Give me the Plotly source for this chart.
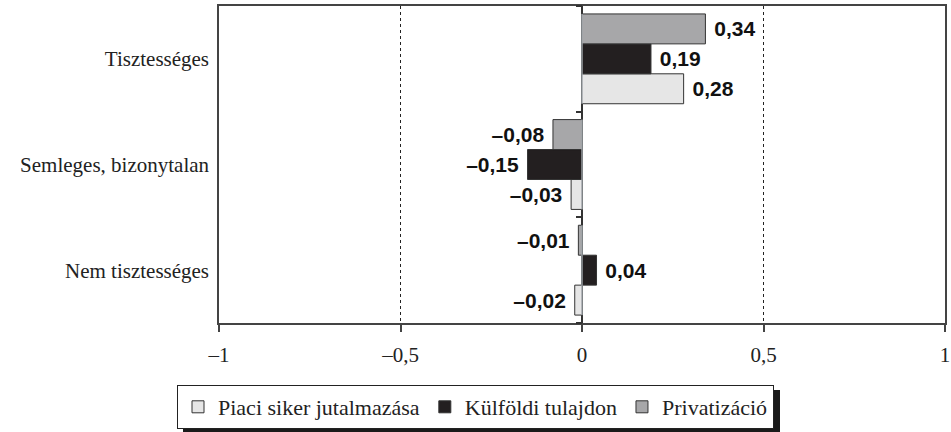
import plotly.graph_objects as go

categories = ["Nem tisztességes", "Semleges, bizonytalan", "Tisztességes"]
series_names = ["Piaci siker jutalmazása", "Külföldi tulajdon", "Privatizáció"]
piaci = [-0.02, -0.03, 0.28]
kulfoldi = [0.04, -0.15, 0.19]
privatizacio = [-0.01, -0.08, 0.34]
colors = ["#e6e6e6", "#231f20", "#a7a7a9"]
x_tickvals = [-1, -0.5, 0, 0.5, 1]
x_ticktext = ["–1", "–0,5", "0", "0,5", "1"]


def fmt(v):
    s = f"{abs(v):.2f}".replace(".", ",")
    return ("–" + s + "\u00a0") if v < 0 else ("\u00a0" + s)


fig = go.Figure()
for name, vals, col in zip(series_names, [piaci, kulfoldi, privatizacio], colors):
    fig.add_trace(go.Bar(
        y=categories, x=vals, orientation="h", name=name,
        marker=dict(color=col, line=dict(color="#333333", width=1)),
        text=[fmt(v) for v in vals], textposition="outside",
        textfont=dict(family="Liberation Sans", size=21, color="#111111", weight="bold"),
        cliponaxis=False,
    ))

# invisible trace to carry the boundary-tick axis at x=0
fig.add_trace(go.Bar(y=categories, x=[0, 0, 0], orientation="h", yaxis="y2",
                     showlegend=False, hoverinfo="skip",
                     marker=dict(color="rgba(0,0,0,0)")))

W, H = 951, 432
ML, MR, MT, MB = 219, 6, 6, 109
PW, PH = W - ML - MR, H - MT - MB


def px_x(p):
    return (p - ML) / PW


def px_y(p):
    return (H - MB - p) / PH


# legend drop shadow (decoration)
fig.add_shape(type="rect", xref="paper", yref="paper",
              x0=px_x(183), x1=px_x(780), y0=px_y(390), y1=px_y(433),
              fillcolor="#1a1a1a", line=dict(width=0), layer="below")

fig.update_layout(
    width=W, height=H,
    margin=dict(l=ML, r=MR, t=MT, b=MB, autoexpand=False),
    paper_bgcolor="white", plot_bgcolor="rgba(0,0,0,0)",
    barmode="group", bargap=0.15, bargroupgap=0,
    font=dict(family="Liberation Serif", size=21, color="#222222"),
    showlegend=True,
    legend=dict(orientation="h", x=px_x(177), xanchor="left", y=px_y(385), yanchor="top",
                bordercolor="#222222", borderwidth=1, bgcolor="white",
                font=dict(family="Liberation Serif", size=22, color="#222222"),
                traceorder="normal", itemwidth=30),
    xaxis=dict(range=[-1, 1], tickvals=x_tickvals, ticktext=x_ticktext, automargin=False,
               showgrid=True, gridcolor="#222222", griddash="dot", gridwidth=1,
               zeroline=True, zerolinecolor="#333333", zerolinewidth=1.5,
               showline=True, linecolor="#444444", linewidth=1.5, mirror=True,
               ticks="outside", ticklen=7, tickcolor="#444444", tickwidth=1.5,
               ticklabelstandoff=5,
               tickfont=dict(family="Liberation Serif", size=21, color="#222222")),
    yaxis=dict(categoryorder="array", categoryarray=categories, range=[-0.5, 2.5],
               showgrid=False, zeroline=False, showline=True, linecolor="#444444",
               linewidth=1.5, mirror=True, ticks="", automargin=False,
               ticklabelstandoff=4,
               tickfont=dict(family="Liberation Serif", size=21, color="#222222")),
    yaxis2=dict(overlaying="y", anchor="free", position=0.5, side="left",
                categoryorder="array", categoryarray=categories, range=[-0.5, 2.5],
                tickson="boundaries", ticks="outside", ticklen=6, tickcolor="#333333",
                tickwidth=1.5, showticklabels=False, showgrid=False, showline=False,
                zeroline=False, automargin=False),
)

fig.write_html("out.html", config={"displayModeBar": False},
               post_script="document.body.style.margin='0';")
